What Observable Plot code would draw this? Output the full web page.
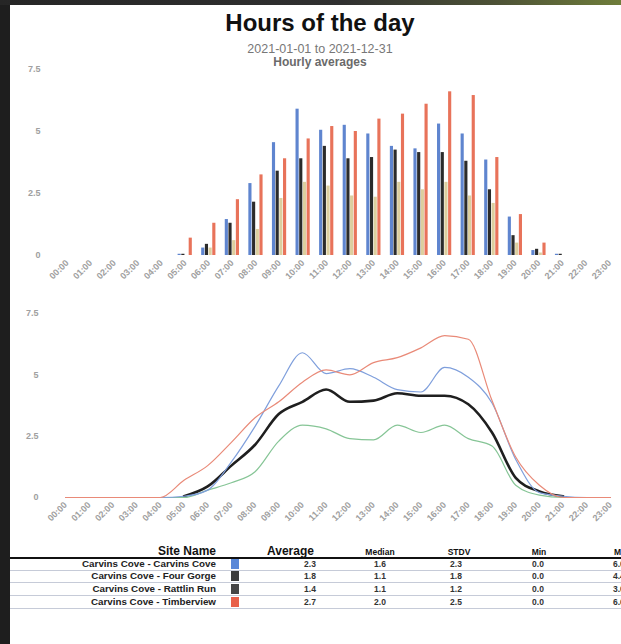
<!DOCTYPE html>
<html>
<head>
<meta charset="utf-8">
<script src="https://cdn.jsdelivr.net/npm/d3@7"></script>
<script src="https://cdn.jsdelivr.net/npm/@observablehq/plot@0.6"></script>
<style>
html,body{margin:0;padding:0;width:621px;height:644px;overflow:hidden;background:#fff;font-family:"Liberation Sans",Arial,sans-serif;position:relative;}
#frameL{position:absolute;left:0;top:0;width:10px;height:644px;background:#1e1e1e;z-index:5}
#frameT{position:absolute;left:0;top:0;width:621px;height:5px;background:linear-gradient(90deg,#262626 0%,#303030 55%,#4d5236 80%,#6f7d3a 100%);z-index:5}
.t{position:absolute;white-space:nowrap}
#title{left:0;width:640px;top:11px;text-align:center;font-weight:bold;font-size:24px;line-height:24px;color:#111}
#sub1{left:0;width:640px;top:43px;text-align:center;font-size:12.5px;line-height:12px;color:#777}
#sub2{left:0;width:640px;top:56px;text-align:center;font-size:12px;font-weight:bold;line-height:12px;color:#6a6a6a}
#bars{position:absolute;left:0;top:60px}
#lines{position:absolute;left:0;top:298px}
#table{position:absolute;left:0;top:0;width:621px;height:644px}
</style>
</head>
<body>
<div id="frameL"></div><div id="frameT"></div>
<div class="t" id="title">Hours of the day</div>
<div class="t" id="sub1">2021-01-01 to 2021-12-31</div>
<div class="t" id="sub2">Hourly averages</div>
<div id="bars"></div>
<div id="lines"></div>
<div id="table"></div>
<script>
// ---- data ----
const hours = ["00:00","01:00","02:00","03:00","04:00","05:00","06:00","07:00","08:00","09:00","10:00","11:00",
               "12:00","13:00","14:00","15:00","16:00","17:00","18:00","19:00","20:00","21:00","22:00","23:00"];
const sites = ["Carvins Cove - Carvins Cove","Carvins Cove - Four Gorge","Carvins Cove - Rattlin Run","Carvins Cove - Timberview"];
const carvinsCove = [0,0,0,0,0,0.05,0.3,1.45,2.9,4.55,5.9,5.05,5.25,4.9,4.4,4.3,5.3,4.9,3.85,1.55,0.2,0.05,0,0];
const fourGorge   = [null,null,null,null,null,0.05,0.45,1.3,2.15,3.4,3.9,4.4,3.9,3.95,4.25,4.15,4.15,3.8,2.65,0.8,0.25,0.05,null,null];
const rattlinRun  = [0,0,0,0,0,0,0.3,0.6,1.05,2.3,2.95,2.8,2.4,2.35,2.95,2.65,2.95,2.4,2.1,0.5,0.1,0,0,0];
const timberview  = [0,0,0,0,0,0.7,1.3,2.25,3.25,3.9,4.7,5.2,5.0,5.5,5.7,6.1,6.6,6.45,3.95,1.65,0.5,0,0,0];
const seriesValues = [carvinsCove, fourGorge, rattlinRun, timberview];
const yTicks = [0, 2.5, 5, 7.5];
const tableHeaders = ["Site Name","Average","Median","STDV","Min","Max"];
const averages = ["2.3","1.8","1.4","2.7"];
const medians  = ["1.6","1.1","1.1","2.0"];
const stdevs   = ["2.3","1.8","1.2","2.5"];
const mins     = ["0.0","0.0","0.0","0.0"];
const maxes    = ["6.0","4.4","3.0","6.6"];

// ---- styles ----
const barColors  = ["#5f85cf","#2b2b2b","#dccf9f","#e8735a"];
const lineColors = ["#7f9fdc","#1f1f1f","#86c596","#e98a78"];
const lineWidths = [1.2, 2.6, 1.2, 1.2];
const swatchColors = ["#5a88d8","#3c3c3c","#454545","#e8604a"];
const axisStyle = {fontFamily:"Liberation Sans, Arial, sans-serif", fontSize:"9px", fontWeight:"bold", color:"#a0a0a0", background:"transparent"};

const rows = [];
hours.forEach((h, i) => seriesValues.forEach((vals, j) => rows.push({hour: h, site: sites[j], value: vals[i]})));

// ---- bar chart ----
const barChart = Plot.plot({
  width: 621, height: 235,
  marginTop: 9, marginBottom: 40, marginLeft: 55, marginRight: 0,
  style: axisStyle,
  facet: {data: rows, x: "hour"},
  fx: {domain: hours, axis: "bottom", paddingInner: 0.35, paddingOuter: 0.175, round: false,
       tickRotate: -45, tickSize: 0, tickPadding: 6, label: null},
  x: {domain: sites, axis: null, padding: 0.15, round: false},
  y: {domain: [0, 7.5], ticks: yTicks, tickFormat: d => String(d), tickSize: 0, tickPadding: 19, label: null},
  color: {domain: sites, range: barColors},
  marks: [
    Plot.barY(rows, {x: "site", y: "value", fill: "site"})
  ]
});
document.getElementById("bars").appendChild(barChart);

// ---- line chart ----
const order = [1, 2, 0, 3];
const lineChart = Plot.plot({
  width: 621, height: 240,
  marginTop: 15, marginBottom: 41, marginLeft: 65, marginRight: 11,
  style: axisStyle,
  x: {type: "point", domain: hours, padding: 0, round: false, tickRotate: -45, tickSize: 0, tickPadding: 6, label: null},
  y: {domain: [0, 7.5], ticks: yTicks, tickFormat: d => String(d), tickSize: 0, tickPadding: 27, label: null},
  color: {domain: sites, range: lineColors},
  marks: order.map(j => Plot.line(rows.filter(r => r.site === sites[j]),
    {x: "hour", y: "value", stroke: "site", strokeWidth: lineWidths[j], curve: "monotone-x"}))
});
document.getElementById("lines").appendChild(lineChart);

// ---- table ----
const tbl = document.getElementById("table");
function addText(txt, css) {
  const d = document.createElement("div");
  d.className = "t"; d.textContent = txt;
  Object.assign(d.style, css);
  tbl.appendChild(d);
  return d;
}
function addBox(css) {
  const d = document.createElement("div");
  d.style.position = "absolute";
  Object.assign(d.style, css);
  tbl.appendChild(d);
}
// header
const hb = {fontWeight: "bold", color: "#111", lineHeight: "12px"};
addText(tableHeaders[0], {...hb, right: (621 - 216) + "px", top: "545px", fontSize: "12px"});
addText(tableHeaders[1], {...hb, left: "267px", top: "545px", fontSize: "12px"});
const colCenters = [380, 459, 539];
[2, 3, 4].forEach((k, n) => addText(tableHeaders[k], {...hb, left: (colCenters[n] - 30) + "px", width: "60px", textAlign: "center", top: "546px", fontSize: "8.5px"}));
addText(tableHeaders[5], {...hb, left: "614px", top: "546px", fontSize: "8.5px"});
addBox({left: "10px", top: "557px", width: "611px", height: "2px", background: "#111"});
// rows
const valCols = [[averages, 310], [medians, 380], [stdevs, 456], [mins, 538]];
sites.forEach((s, i) => {
  const cy = 563.5 + i * 12.7;
  addText(s, {right: (621 - 216) + "px", top: (cy - 6) + "px", fontSize: "9.8px", fontWeight: "bold", color: "#222", lineHeight: "12px"});
  addBox({left: "231px", top: (cy - 5) + "px", width: "8px", height: "10px", background: swatchColors[i]});
  valCols.forEach(([arr, cx]) => addText(arr[i], {left: (cx - 20) + "px", width: "40px", textAlign: "center", top: (cy - 6) + "px", fontSize: "8.5px", fontWeight: "bold", color: "#333", lineHeight: "12px"}));
  addText(maxes[i], {left: "613px", top: (cy - 6) + "px", fontSize: "8.5px", fontWeight: "bold", color: "#333", lineHeight: "12px"});
  addBox({left: "10px", top: (cy + 6.2) + "px", width: "611px", height: "1px", background: "#c6cbd8"});
});
</script>
</body>
</html>
